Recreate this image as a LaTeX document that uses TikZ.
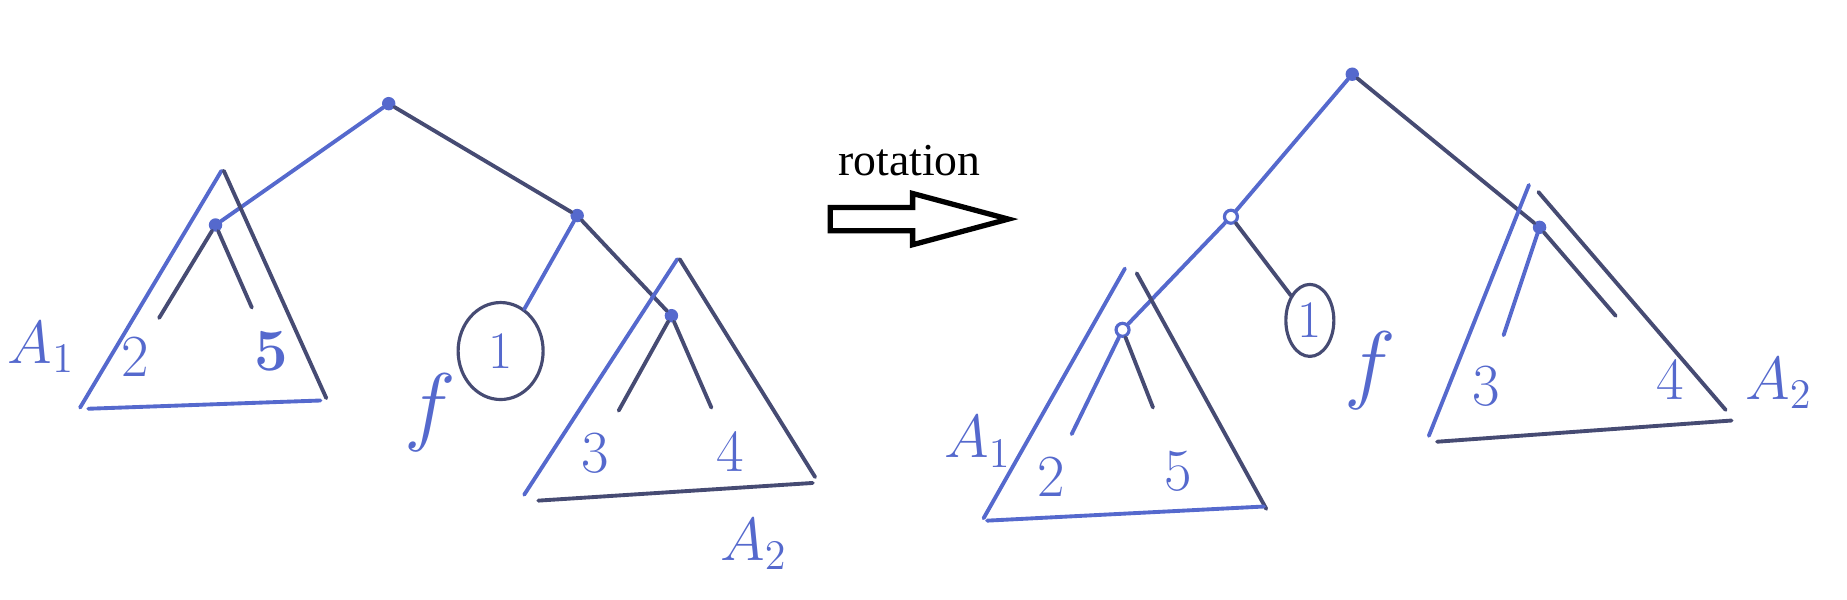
\documentclass[tikz,border=0pt]{standalone}
\usepackage{fontspec}
\usepackage{tikz}
\usetikzlibrary{shapes.geometric, shapes.arrows, positioning}
\newfontfamily\printfont{Liberation Serif}
\definecolor{penblue}{RGB}{85, 105, 205}
\definecolor{pendark}{RGB}{70, 75, 115}

\tikzset{
  dot/.style={circle, fill=penblue, draw=penblue, inner sep=0pt, minimum size=0.12cm},
  hollowdot/.style={circle, draw=penblue, line width=0.9pt, inner sep=0pt, minimum size=0.13cm},
  leafnode/.style={ellipse, draw=pendark, line width=0.9pt, inner sep=0pt, text=penblue,
                   font=\fontsize{15}{15}\selectfont},
  hand/.style={text=penblue, inner sep=1pt, font=\fontsize{17}{17}\selectfont},
  edge/.style={draw=penblue, line width=1.1pt, line cap=round},
  darkedge/.style={draw=pendark, line width=1.1pt, line cap=round},
}

\begin{document}
\begin{tikzpicture}[x=0.01178cm, y=-0.01178cm]
  \useasboundingbox (0,0) rectangle (1568,509);

  % tree before the rotation
  \node[dot] (r) at (330,88) {};
  \node[dot] (a) at (183,191) {};
  \node[dot] (b) at (490,183) {};
  \node[dot] (c) at (570,268) {};
  \node[leafnode, minimum width=0.85cm, minimum height=0.97cm] (leafL) at (425,298) {1};
  \node[hand] (twoL) at (115,303) {2};
  \node[hand] (fiveL) at (230,298) {\textbf{5}};
  \node[hand] (threeL) at (505,385) {3};
  \node[hand] (fourL) at (620,383) {4};
  \node[hand] (aoneL) at (35,295) {$A_1$};
  \node[hand] (atwoL) at (640,462) {$A_2$};
  \node[hand, font=\fontsize{26}{26}\selectfont] (fL) at (365,350) {$f$};

  \draw[edge] (r) -- (a);
  \draw[darkedge] (r) -- (b);
  \draw[edge] (b) -- (leafL);
  \draw[darkedge] (b) -- (c);
  \draw[darkedge, shorten >=5pt] (a) -- (twoL);
  \draw[darkedge, shorten >=6pt] (a) -- (fiveL);
  \draw[darkedge, shorten >=6pt] (c) -- (threeL);
  \draw[darkedge, shorten >=6pt] (c) -- (fourL);

  \draw[edge] (188,145) -- (68,346);
  \draw[darkedge] (190,145) -- (277,338);
  \draw[edge] (75,347) -- (272,340);
  \draw[edge] (575,220) -- (445,420);
  \draw[darkedge] (577,220) -- (692,405);
  \draw[darkedge] (457,425) -- (690,410);

  % the arrow
  \node[single arrow, draw=black, line width=1.5pt, inner xsep=0pt, inner ysep=0.09cm,
        minimum height=1.78cm, single arrow head extend=0.14cm, single arrow tip angle=30]
        (rotarrow) at (762,186) {};
  \node[font=\printfont\fontsize{13}{15}\selectfont] (rotlabel) at (772,136) {rotation};

  % tree after the rotation
  \node[dot] (R) at (1148,63) {};
  \node[hollowdot] (x) at (1045,184) {};
  \node[dot] (y) at (1307,193) {};
  \node[hollowdot] (z) at (953,280) {};
  \node[leafnode, minimum width=0.48cm, minimum height=0.72cm] (leafR) at (1112,272) {1};
  \node[hand] (twoR) at (892,405) {2};
  \node[hand] (fiveR) at (1000,400) {5};
  \node[hand] (threeR) at (1262,328) {3};
  \node[hand] (fourR) at (1418,322) {4};
  \node[hand] (aoneR) at (830,375) {$A_1$};
  \node[hand] (atwoR) at (1510,325) {$A_2$};
  \node[hand, font=\fontsize{26}{26}\selectfont] (fR) at (1163,315) {$f$};

  \draw[edge] (R) -- (x);
  \draw[darkedge] (R) -- (y);
  \draw[edge] (x) -- (z);
  \draw[darkedge] (x) -- (leafR);
  \draw[edge, shorten >=6pt] (z) -- (twoR);
  \draw[darkedge, shorten >=12pt] (z) -- (fiveR);
  \draw[edge, shorten >=8pt] (y) -- (threeR);
  \draw[darkedge, shorten >=16pt] (y) -- (fourR);

  \draw[edge] (955,228) -- (835,440);
  \draw[darkedge] (965,232) -- (1075,432);
  \draw[edge] (838,442) -- (1073,430);
  \draw[edge] (1298,157) -- (1213,370);
  \draw[darkedge] (1306,163) -- (1465,348);
  \draw[darkedge] (1220,375) -- (1470,357);
\end{tikzpicture}
\end{document}
